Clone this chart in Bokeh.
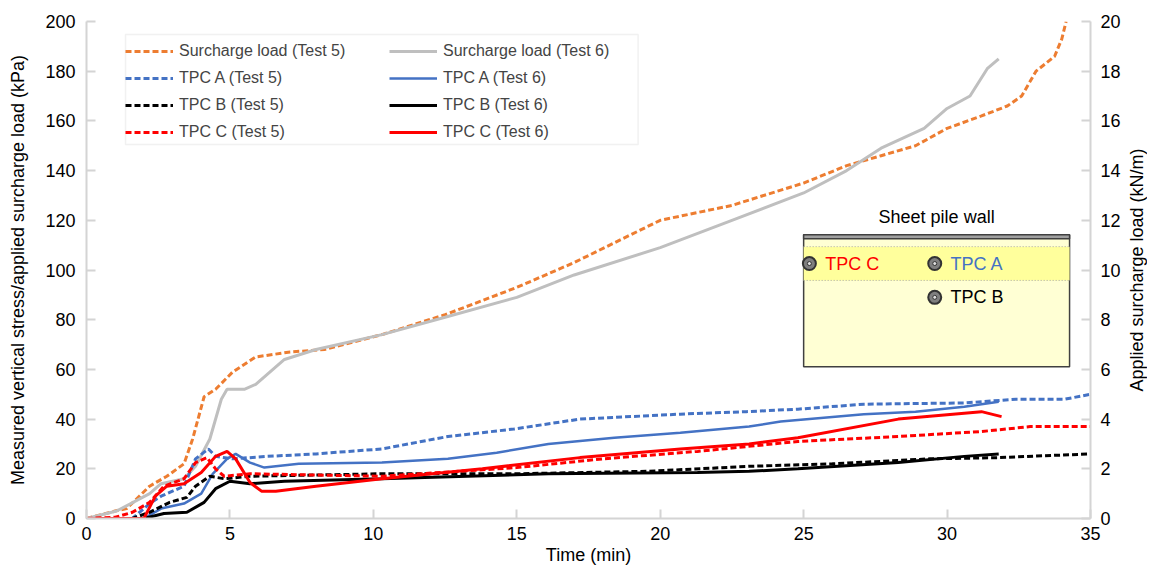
from bokeh.plotting import figure
from bokeh.layouts import row
from bokeh.models import (Range1d, LinearAxis, SingleIntervalTicker, Legend,
                          LegendItem, ColumnDataSource, BoxAnnotation,
                          FixedTicker)
from bokeh.core.properties import value
from bokeh.embed import file_html
from bokeh.resources import INLINE

FONT = "Liberation Sans"
ORANGE = "#ed7d31"
BLUE = "#4472c4"
GREY = "#bfbfbf"
RED = "#ff0000"
AXIS_GREY = "#d4d4d4"

# surcharge loads, kN/m (right axis)
t_s5 = [0, 1.0, 1.4, 2.2, 2.8, 3.4, 3.7, 4.1, 4.5, 5.1, 5.9, 7.1, 8.3, 10.3,
        12.5, 15, 17, 20, 22.5, 25, 26.5, 27.7, 28.9, 30.0, 31.2, 32.1, 32.6,
        33.1, 33.75, 34.0, 34.15]
load_s5 = [0, 0.3, 0.4, 1.3, 1.7, 2.2, 3.2, 4.9, 5.2, 5.9, 6.5, 6.7, 6.8, 7.4,
           8.2, 9.3, 10.3, 12.0, 12.6, 13.5, 14.2, 14.6, 15.0, 15.7, 16.2,
           16.6, 17.0, 18.0, 18.6, 19.3, 20.0]
t_s6 = [0, 1.05, 2.2, 2.6, 3.4, 3.8, 4.3, 4.7, 4.9, 5.5, 5.9, 6.9, 8.0, 10.3,
        12.5, 15, 17, 20, 22.5, 25, 26.5, 27.7, 29.2, 30.0, 30.8, 31.4, 31.8]
load_s6 = [0, 0.3, 1.0, 1.4, 1.6, 2.1, 3.2, 4.8, 5.2, 5.2, 5.4, 6.4, 6.8, 7.4,
           8.1, 8.9, 9.8, 10.9, 12.0, 13.1, 14.0, 14.9, 15.7, 16.5, 17.0,
           18.1, 18.5]

# total pressure cells, kPa (left axis)
t_a5 = [0, 1.6, 2.2, 2.6, 3.4, 3.8, 4.25, 4.5, 5.1, 6.3, 8.0, 10.3, 12.6,
        14.9, 17.2, 20.7, 23.0, 24.8, 27.1, 30.6, 32.4, 34.1, 35]
tpc_a5 = [0, 0, 6, 9, 13, 24, 28, 25, 24, 25, 26, 28, 33, 36, 40, 42, 43, 44,
          46, 46.5, 48, 48, 50]
t_a6 = [0, 2.0, 2.6, 3.4, 4.0, 4.4, 4.9, 5.2, 5.7, 6.2, 7.4, 10.3, 12.6, 14.3,
        16.1, 18.4, 20.7, 23.1, 24.2, 27.1, 28.9, 30.6, 31.8]
tpc_a6 = [0, 0, 4, 6, 10, 18, 24, 26, 22.5, 20.5, 22, 22.5, 24, 26.5, 30,
          32.5, 34.5, 37, 39, 42, 43, 45, 47]
t_b5 = [0, 1.6, 2.2, 2.9, 3.5, 3.8, 4.3, 4.8, 5.7, 10.3, 15, 19.6, 23.1, 26.0,
        29.4, 31.8, 35]
tpc_b5 = [0, 0, 2.5, 6.5, 8.5, 13, 17, 16, 17, 18, 18, 19, 21, 22, 24, 24.5,
          26]
t_b6 = [0, 2.0, 2.7, 3.5, 4.1, 4.5, 5.0, 5.7, 6.9, 10.3, 16.1, 21.3, 23.1,
        24.8, 28.3, 30.6, 31.8]
tpc_b6 = [0, 0, 2, 2.5, 6.5, 12, 15, 14, 15, 16, 18, 18.5, 19, 20, 22.5, 25,
          26]
t_c5 = [0, 1.0, 1.6, 2.2, 2.7, 3.4, 3.8, 4.2, 4.5, 4.8, 5.7, 10.3, 15, 18,
        21.3, 24.8, 28.3, 31.2, 32.9, 35]
tpc_c5 = [0, 0.5, 2.5, 6.5, 13, 16, 22.5, 24.5, 20, 17, 18, 17, 20.5, 24, 27,
          31, 33, 35, 37, 37]
t_c6 = [0, 2.0, 2.4, 2.8, 3.4, 4.0, 4.5, 4.9, 5.2, 5.7, 6.1, 6.6, 8.0, 10.3,
        13.8, 17.2, 20.7, 23.1, 24.8, 28.3, 31.2, 31.9]
tpc_c6 = [0, 0, 9, 13, 14, 18.5, 25, 27, 24, 14.5, 11, 11, 13, 16, 20, 24.5,
          28, 30, 32.5, 40, 43, 41]

# sheet pile wall sketch (in plot units: min, kPa)
wall_left, wall_right = 25.0, 34.27
wall_bottom, wall_top = 61.1, 114.2
band_bottom, band_top = 95.8, 109.4
cap_bottom = 112.6
cell_x = [25.2, 29.57, 29.57]
cell_y = [102.6, 102.6, 89.0]
cell_names = ["TPC C", "TPC A", "TPC B"]
cell_colors = [RED, BLUE, "black"]

p = figure(width=1123, height=567, x_range=Range1d(0, 35),
           y_range=Range1d(0, 200), output_backend="svg",
           toolbar_location=None, min_border_left=86, min_border_right=32,
           min_border_top=21, min_border_bottom=45)
p.extra_y_ranges = {"kn": Range1d(0, 20)}
p.outline_line_color = None
p.xgrid.visible = False
p.ygrid.visible = False
p.background_fill_color = "white"
p.border_fill_color = "white"

# the wall sketch sits behind the curves
p.quad(left=wall_left, right=wall_right, bottom=wall_bottom, top=wall_top,
       fill_color="#ffffd4", line_color="#404040", line_width=1.5)
p.quad(left=wall_left, right=wall_right, bottom=band_bottom, top=band_top,
       fill_color="#ffff9c", line_color=None)
for yy in (band_bottom, band_top):
    p.line([wall_left, wall_right], [yy, yy], line_color="#a8a8a8",
           line_width=1, line_dash="1 2")
p.quad(left=wall_left, right=wall_right, bottom=cap_bottom, top=wall_top,
       fill_color="#a0a0a0", line_color="#404040", line_width=1.5)
p.text(x=[(wall_left + wall_right) / 2], y=[wall_top + 3],
       text=["Sheet pile wall"], text_font=value(FONT), text_font_size="18px",
       text_align="center", text_baseline="bottom", text_color="black")
cells = ColumnDataSource(dict(x=cell_x, y=cell_y, name=cell_names,
                              color=cell_colors,
                              tx=[xx + 0.55 for xx in cell_x]))
p.scatter("x", "y", source=cells, size=13, fill_color="#7f7f7f",
          line_color="#333333", line_width=2)
p.scatter("x", "y", source=cells, size=4, fill_color="#e0e0e0",
          line_color="#333333", line_width=1)
p.text("tx", "y", text="name", source=cells, text_color="color",
       text_font=value(FONT), text_font_size="18px", text_baseline="middle")

dash = "6 3"
r_s5 = p.line(t_s5, load_s5, y_range_name="kn", line_color=ORANGE,
              line_width=3, line_dash=dash)
r_s6 = p.line(t_s6, load_s6, y_range_name="kn", line_color=GREY,
              line_width=3)
r_a5 = p.line(t_a5, tpc_a5, line_color=BLUE, line_width=3, line_dash=dash)
r_a6 = p.line(t_a6, tpc_a6, line_color=BLUE, line_width=2.5)
r_b5 = p.line(t_b5, tpc_b5, line_color="black", line_width=3, line_dash=dash)
r_b6 = p.line(t_b6, tpc_b6, line_color="black", line_width=3)
r_c5 = p.line(t_c5, tpc_c5, line_color=RED, line_width=3, line_dash=dash)
r_c6 = p.line(t_c6, tpc_c6, line_color=RED, line_width=3)

# axes
right = LinearAxis(y_range_name="kn", ticker=SingleIntervalTicker(interval=2))
p.add_layout(right, "right")
p.xaxis.ticker = SingleIntervalTicker(interval=5)
p.yaxis[0].ticker = SingleIntervalTicker(interval=20)
p.xaxis.axis_label = "Time (min)"
p.yaxis[0].axis_label = "Measured vertical stress/applied surcharge load (kPa)"

for ax in p.xaxis + p.yaxis:
    ax.axis_line_color = AXIS_GREY
    ax.axis_line_width = 2
    ax.major_tick_line_color = AXIS_GREY
    ax.major_tick_line_width = 2
    ax.major_tick_in = 9
    ax.major_tick_out = 0
    ax.minor_tick_line_color = None
    ax.major_label_text_font = FONT
    ax.major_label_text_font_size = "18px"
    ax.major_label_text_color = "black"
    ax.major_label_standoff = 7
    ax.axis_label_text_font = FONT
    ax.axis_label_text_font_size = "18px"
    ax.axis_label_text_font_style = "normal"
    ax.axis_label_text_color = "black"
p.xaxis.major_label_standoff = 4
p.xaxis.axis_label_standoff = 2
p.yaxis[0].axis_label_standoff = 14
right.major_label_standoff = 6

col5 = [("Surcharge load (Test 5)", r_s5), ("TPC A (Test 5)", r_a5),
        ("TPC B (Test 5)", r_b5), ("TPC C (Test 5)", r_c5)]
col6 = [("Surcharge load (Test 6)", r_s6), ("TPC A (Test 6)", r_a6),
        ("TPC B (Test 6)", r_b6), ("TPC C (Test 6)", r_c6)]
for items, xloc in ((col5, 39), (col6, 303)):
    leg = Legend(items=[LegendItem(label=lab, renderers=[r]) for lab, r in items],
                 location=(xloc, 376))
    leg.label_text_font = FONT
    leg.label_text_font_size = "16px"
    leg.glyph_width = 48
    leg.glyph_height = 20
    leg.label_height = 20
    leg.label_standoff = 6
    leg.spacing = 7
    leg.padding = 6
    leg.margin = 0
    leg.border_line_color = None
    leg.background_fill_alpha = 0
    p.add_layout(leg, "center")
p.add_layout(BoxAnnotation(left=1.36, right=19.23, bottom=150.5, top=194.8,
                           fill_color=None, line_color="#d0d0d0",
                           line_width=1.5))

# right-hand title: a left axis of a thin strip, so it reads bottom to top
strip = figure(width=24, height=567, x_range=Range1d(0, 1),
               y_range=Range1d(0, 1), output_backend="svg",
               toolbar_location=None, x_axis_location=None,
               min_border_left=23, min_border_right=0, min_border_top=21,
               min_border_bottom=49)
strip.outline_line_color = None
strip.xgrid.visible = False
strip.ygrid.visible = False
sax = strip.yaxis[0]
sax.ticker = FixedTicker(ticks=[])
sax.axis_line_color = None
sax.major_tick_line_color = None
sax.minor_tick_line_color = None
sax.axis_label = "Applied surcharge load (kN/m)"
sax.axis_label_standoff = 0
sax.axis_label_text_font = FONT
sax.axis_label_text_font_size = "18px"
sax.axis_label_text_font_style = "normal"
sax.axis_label_text_color = "black"

page = row(p, strip)
open("out.html", "w").write(file_html(page, INLINE))
